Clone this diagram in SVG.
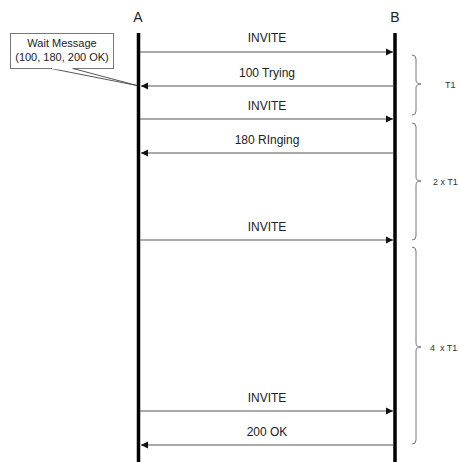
<svg xmlns="http://www.w3.org/2000/svg" width="459" height="462" viewBox="0 0 459 462">
<defs>
<marker id="ah" markerWidth="8" markerHeight="8" refX="7" refY="4" orient="auto" markerUnits="userSpaceOnUse">
<path d="M0,0.5 L7,4 L0,7.5 Z" fill="#111"/>
</marker>
<style>
.lbl{font-family:"Liberation Sans",Arial,sans-serif;font-size:12px;fill:#222;text-anchor:middle}
.hd{font-family:"Liberation Sans",Arial,sans-serif;font-size:14px;fill:#222;text-anchor:middle}
.sm{font-family:"Liberation Sans",Arial,sans-serif;font-size:9px;fill:#333}
.msg{stroke:#555;stroke-width:1.2;fill:none;marker-end:url(#ah)}
.life{stroke:#000;stroke-width:3.5}
.brace{stroke:#777;stroke-width:1;fill:none}
</style>
</defs>
<rect width="459" height="462" fill="#fff"/>
<g id="A">
<text class="hd" x="138" y="22">A</text>
<line class="life" x1="138.5" y1="33" x2="138.5" y2="462"/>
</g>
<g id="B">
<text class="hd" x="395" y="22">B</text>
<line class="life" x1="395" y1="33" x2="395" y2="462"/>
</g>
<g id="connectors">
<line class="msg" x1="140" y1="52" x2="393" y2="52"/>
<line class="msg" x1="393" y1="86" x2="141" y2="86"/>
<line class="msg" x1="140" y1="119" x2="393" y2="119"/>
<line class="msg" x1="393" y1="153" x2="141" y2="153"/>
<line class="msg" x1="140" y1="240" x2="393" y2="240"/>
<line class="msg" x1="140" y1="411" x2="393" y2="411"/>
<line class="msg" x1="393" y1="445" x2="141" y2="445"/>
</g>
<g id="labels">
<text class="lbl" x="267" y="42">INVITE</text>
<text class="lbl" x="267" y="77">100 Trying</text>
<text class="lbl" x="267" y="110">INVITE</text>
<text class="lbl" x="267" y="144">180 RInging</text>
<text class="lbl" x="267" y="231">INVITE</text>
<text class="lbl" x="267" y="402">INVITE</text>
<text class="lbl" x="267" y="436">200 OK</text>
</g>
<g id="wait">
<rect x="10.5" y="33.5" width="103" height="35" fill="#fff" stroke="#777" stroke-width="1"/>
<path d="M51,68.5 L137,85.5 L73,68.5" fill="#fff" stroke="#444" stroke-width="0.9"/>
<line x1="52" y1="68.5" x2="72" y2="68.5" stroke="#fff" stroke-width="1.5"/>
<text class="lbl" x="62" y="47" style="font-size:11px">Wait Message</text>
<text class="lbl" x="62" y="61" style="font-size:11px">(100, 180, 200 OK)</text>
</g>
<g id="brace1">
<path class="brace" d="M412,55 Q416,55 416,59 L416,80 Q416,84 421,84 Q416,84 416,88 L416,111 Q416,115 412,115"/>
<text class="sm" x="445" y="88">T1</text>
</g>
<g id="brace2">
<path class="brace" d="M412,123 Q416,123 416,127 L416,177 Q416,181 421,181 Q416,181 416,185 L416,236 Q416,240 412,240"/>
<text class="sm" x="433" y="185">2 x T1</text>
</g>
<g id="brace3">
<path class="brace" d="M412,247 Q416,247 416,251 L416,343 Q416,347 421,347 Q416,347 416,351 L416,440 Q416,444 412,444"/>
<text class="sm" x="430" y="351" xml:space="preserve">4  x T1</text>
</g>
</svg>
